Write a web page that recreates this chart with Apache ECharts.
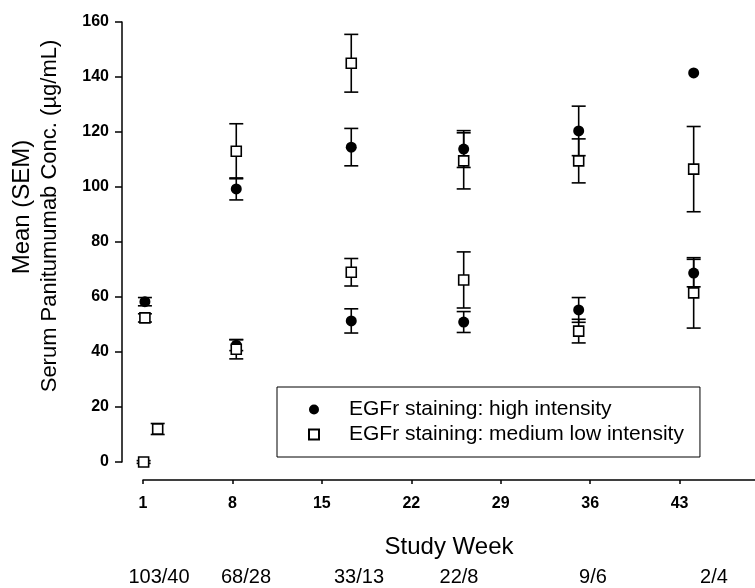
<!DOCTYPE html>
<html>
<head>
<meta charset="utf-8">
<script src="https://cdn.jsdelivr.net/npm/echarts@6/dist/echarts.min.js"></script>
<style>
  html, body { margin: 0; padding: 0; background: #fff; }
  #chart { width: 755px; height: 588px; }
</style>
</head>
<body>
<div id="chart"></div>
<script>
// Serum panitumumab concentration by study week and EGFr staining intensity
const weekTicks = [1, 8, 15, 22, 29, 36, 43];
const yTicks = [0, 20, 40, 60, 80, 100, 120, 140, 160];

const highName = 'EGFr staining: high intensity';
const highWeek = [1.15, 8.3, 8.3, 17.3, 17.3, 26.1, 26.1, 35.1, 35.1, 44.1, 44.1];
const highMean = [58.3, 99.3, 42.5, 114.5, 51.3, 113.8, 50.9, 120.4, 55.3, 141.5, 68.7];
const highSem  = [1.5, 4.0, 2.0, 6.8, 4.4, 6.7, 3.8, 9.0, 4.5, 0, 5.0];

const medName = 'EGFr staining: medium low intensity';
const medWeek = [1.05, 1.15, 2.15, 8.3, 8.3, 17.3, 17.3, 26.1, 26.1, 35.1, 35.1, 44.1, 44.1];
const medMean = [0, 52.4, 12.0, 113.0, 41.0, 145.0, 69.0, 109.5, 66.2, 109.5, 47.6, 106.5, 61.5];
const medSem  = [0.5, 1.5, 2.0, 10.0, 3.5, 10.5, 5.0, 10.2, 10.2, 8.0, 4.3, 15.5, 12.8];

// patients per visit (high / medium-low)
const countLabels = ['103/40', '68/28', '33/13', '22/8', '9/6', '2/4'];

const FONT = '"Liberation Sans", Arial, sans-serif';
const countX = [159, 246, 359, 459, 593, 714];

function points(weeks, means) {
  return weeks.map((w, i) => [w, means[i]]);
}
function bars(weeks, means, sems) {
  return weeks.map((w, i) => [w, means[i] - sems[i], means[i] + sems[i]]);
}
function renderErrorBar(params, api) {
  const lo = api.value(1), hi = api.value(2);
  if (hi - lo <= 0) return null;
  const top = api.coord([api.value(0), hi]);
  const bot = api.coord([api.value(0), lo]);
  const cap = 7;
  const style = { stroke: '#000', lineWidth: 1.6 };
  return {
    type: 'group',
    children: [
      { type: 'line', shape: { x1: top[0], y1: top[1], x2: bot[0], y2: bot[1] }, style },
      { type: 'line', shape: { x1: top[0] - cap, y1: top[1], x2: top[0] + cap, y2: top[1] }, style },
      { type: 'line', shape: { x1: bot[0] - cap, y1: bot[1], x2: bot[0] + cap, y2: bot[1] }, style }
    ]
  };
}

const chart = echarts.init(document.getElementById('chart'), null, { renderer: 'canvas' });

const graphics = [
  { type: 'text', x: 22, y: 207, rotation: Math.PI / 2,
    style: { text: 'Mean (SEM)', font: '24px ' + FONT, fill: '#000', align: 'center', verticalAlign: 'middle' } },
  { type: 'text', x: 50, y: 216, rotation: Math.PI / 2,
    style: { text: 'Serum Panitumumab Conc. (\u00b5g/mL)', font: '22px ' + FONT, fill: '#000', align: 'center', verticalAlign: 'middle' } }
];
countLabels.forEach((t, i) => {
  graphics.push({ type: 'text', x: countX[i], y: 577,
    style: { text: t, font: '20px ' + FONT, fill: '#000', align: 'center', verticalAlign: 'middle' } });
});

chart.setOption({
  animation: false,
  backgroundColor: '#fff',
  textStyle: { fontFamily: FONT, color: '#000' },
  grid: { left: 143, right: 0, top: 22, bottom: 126, outerBoundsMode: 'none', containLabel: false },
  xAxis: {
    type: 'value', min: 1, max: 48.9, offset: 18,
    name: 'Study Week', nameLocation: 'middle', nameGap: 55,
    nameTextStyle: { fontSize: 24, color: '#000', fontFamily: FONT },
    axisLine: { onZero: false, lineStyle: { color: '#000', width: 1.5 } },
    axisTick: { show: true, inside: false, length: 4, customValues: weekTicks, lineStyle: { color: '#000', width: 1.5 } },
    axisLabel: { customValues: weekTicks, margin: 16, fontSize: 16, fontWeight: 'bold', color: '#000', fontFamily: FONT },
    splitLine: { show: false }
  },
  yAxis: {
    type: 'value', min: 0, max: 160, interval: 20, offset: 21,
    axisLine: { show: true, onZero: false, lineStyle: { color: '#000', width: 1.5 } },
    axisTick: { show: true, inside: false, length: 7, customValues: yTicks, lineStyle: { color: '#000', width: 1.5 } },
    axisLabel: { customValues: yTicks, margin: 13, fontSize: 16, fontWeight: 'bold', color: '#000', fontFamily: FONT },
    splitLine: { show: false }
  },
  legend: {
    left: 277, top: 387, orient: 'vertical',
    padding: [12, 16, 12, 31], itemGap: 4, itemWidth: 10, itemHeight: 10,
    borderColor: '#000', borderWidth: 1, selectedMode: false,
    textStyle: { fontSize: 21, color: '#000', fontFamily: FONT, padding: [0, 0, 0, 25] },
    data: [{ name: highName, icon: 'circle' }, { name: medName, icon: 'rect' }]
  },
  graphic: graphics,
  series: [
    { type: 'custom', name: 'highErr', renderItem: renderErrorBar, data: bars(highWeek, highMean, highSem), z: 2, silent: true },
    { type: 'custom', name: 'medErr', renderItem: renderErrorBar, data: bars(medWeek, medMean, medSem), z: 2, silent: true },
    { type: 'scatter', name: highName, data: points(highWeek, highMean), symbol: 'circle', symbolSize: 11,
      itemStyle: { color: '#000', opacity: 1 }, z: 3 },
    { type: 'scatter', name: medName, data: points(medWeek, medMean), symbol: 'rect', symbolSize: 10,
      itemStyle: { color: '#fff', borderColor: '#000', borderWidth: 1.6, opacity: 1 }, z: 4 }
  ]
});
</script>
</body>
</html>
